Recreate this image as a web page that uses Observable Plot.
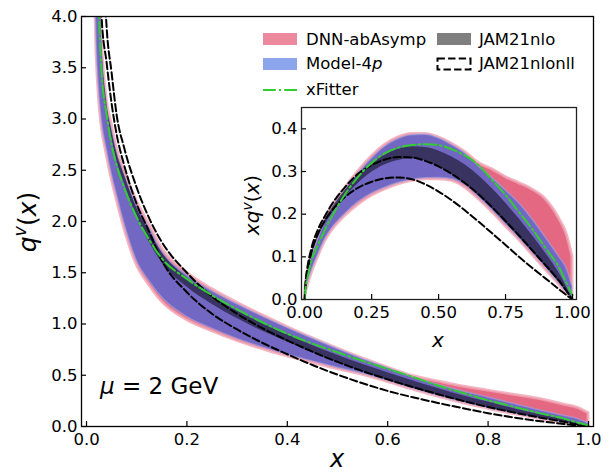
<!DOCTYPE html>
<html><head><meta charset="utf-8">
<script src="https://cdn.jsdelivr.net/npm/d3@7"></script>
<script src="https://cdn.jsdelivr.net/npm/@observablehq/plot@0.6"></script>
<style>
body{margin:0;background:#fff;}
#wrap{position:relative;width:610px;height:473px;font-family:"DejaVu Sans",sans-serif;color:#000;overflow:hidden;}
#wrap svg.plotsvg{position:absolute;overflow:visible;}
.t{position:absolute;white-space:nowrap;line-height:1;transform:translateY(-50%);}
.sw{position:absolute;}
</style></head><body><div id="wrap"></div><script>
// ---------- main panel data: q^v(x) ----------
const xMain = [0.01,0.015,0.02,0.025,0.03,0.04,0.05,0.06,0.075,0.1,0.125,0.15,0.2,0.25,0.3,0.35,0.4,0.45,0.5,0.55,0.6,0.65,0.7,0.75,0.8,0.85,0.9,0.95,0.98,1.0];
const dnnHiMain = [10,7.5,5.7,4.6,3.85,3.2,2.95,2.72,2.5,2.2,1.97,1.74,1.5,1.34,1.207,1.086,0.97,0.862,0.76,0.664,0.575,0.492,0.44,0.39,0.35,0.31,0.27,0.215,0.18,0.13];
const dnnLoMain = [6.0,4.6,3.65,3.2,2.94,2.66,2.42,2.22,1.94,1.58,1.38,1.22,1.04,0.93,0.835,0.755,0.685,0.622,0.56,0.505,0.435,0.36,0.292,0.228,0.174,0.123,0.077,0.036,0.013,0];
const m4pHiMain = [9.8,7.3,5.6,4.5,3.78,3.15,2.9,2.68,2.46,2.16,1.94,1.71,1.475,1.32,1.193,1.074,0.962,0.858,0.756,0.658,0.57,0.48,0.407,0.341,0.283,0.221,0.161,0.105,0.071,0.03];
const m4pLoMain = [6.1,4.7,3.72,3.27,3.0,2.71,2.47,2.27,1.99,1.62,1.42,1.26,1.07,0.955,0.855,0.772,0.7,0.636,0.574,0.516,0.445,0.37,0.3,0.236,0.181,0.129,0.083,0.04,0.015,0];
const jamLoMain = [9.0,6.9,5.35,4.35,3.7,3.1,2.83,2.6,2.38,2.05,1.8,1.6,1.36,1.192,1.053,0.931,0.825,0.722,0.624,0.533,0.45,0.374,0.304,0.24,0.184,0.132,0.086,0.042,0.016,0];
const jamHiMain = [9.5,7.2,5.55,4.5,3.8,3.18,2.9,2.68,2.46,2.13,1.9,1.7,1.45,1.272,1.127,1.006,0.895,0.791,0.696,0.607,0.525,0.446,0.371,0.301,0.238,0.176,0.12,0.065,0.028,0];
const nllHiMain = [14,10,7.5,6.0,5.0,3.9,3.45,3.04,2.72,2.33,2.03,1.8,1.5,1.27,1.1,0.96,0.84,0.73,0.63,0.54,0.46,0.385,0.315,0.25,0.19,0.138,0.09,0.046,0.018,0];
const nllLoMain = [11,8,6.1,4.8,4.0,3.55,3.15,2.85,2.55,2.17,1.9,1.62,1.31,1.1,0.947,0.817,0.705,0.6,0.506,0.422,0.347,0.285,0.23,0.178,0.13,0.089,0.054,0.025,0.009,0];
const xfMain = [8.5,6.2,4.8,4.0,3.45,3.05,2.75,2.55,2.33,2.04,1.82,1.64,1.44,1.28,1.143,1.017,0.905,0.809,0.724,0.64,0.562,0.483,0.4,0.327,0.256,0.194,0.133,0.079,0.036,0.01];

// ---------- inset data: x q^v(x) ----------
const xIn = [0,0.004,0.01,0.025,0.05,0.075,0.1,0.15,0.2,0.25,0.3,0.35,0.4,0.45,0.5,0.55,0.6,0.65,0.7,0.75,0.8,0.85,0.9,0.95,0.98,1.0];
const dnnHiIn = [0,0.035,0.06,0.1,0.145,0.185,0.215,0.26,0.3,0.335,0.362,0.38,0.388,0.388,0.38,0.365,0.345,0.32,0.305,0.287,0.273,0.258,0.235,0.19,0.15,0.1];
const dnnLoIn = [0,0.015,0.03,0.06,0.1,0.135,0.16,0.195,0.222,0.243,0.258,0.27,0.278,0.282,0.282,0.278,0.262,0.235,0.205,0.172,0.14,0.105,0.07,0.035,0.013,0];
const m4pHiIn = [0,0.034,0.058,0.097,0.14,0.18,0.21,0.255,0.295,0.33,0.358,0.376,0.385,0.386,0.378,0.362,0.342,0.312,0.285,0.256,0.226,0.188,0.145,0.1,0.07,0.03];
const m4pLoIn = [0,0.017,0.035,0.065,0.105,0.14,0.165,0.2,0.228,0.248,0.262,0.273,0.28,0.284,0.285,0.282,0.268,0.24,0.21,0.177,0.145,0.11,0.075,0.038,0.015,0];
const jamLoIn = [0,0.037,0.062,0.1,0.143,0.175,0.2,0.24,0.272,0.298,0.316,0.326,0.33,0.325,0.312,0.293,0.27,0.243,0.213,0.18,0.147,0.112,0.077,0.04,0.016,0];
const jamHiIn = [0,0.04,0.068,0.108,0.152,0.186,0.212,0.255,0.29,0.318,0.338,0.352,0.358,0.356,0.348,0.334,0.315,0.29,0.26,0.226,0.19,0.15,0.108,0.062,0.027,0];
const nllHiIn = [0,0.045,0.075,0.12,0.165,0.195,0.222,0.263,0.295,0.315,0.328,0.334,0.333,0.325,0.312,0.294,0.272,0.246,0.216,0.184,0.15,0.115,0.08,0.044,0.018,0];
const nllLoIn = [0,0.04,0.065,0.11,0.155,0.185,0.207,0.24,0.262,0.276,0.284,0.286,0.282,0.27,0.253,0.232,0.208,0.182,0.155,0.128,0.1,0.074,0.049,0.024,0.009,0];
const xfIn = [0,0.03,0.05,0.09,0.128,0.163,0.193,0.246,0.288,0.32,0.343,0.356,0.362,0.364,0.362,0.352,0.337,0.314,0.28,0.245,0.205,0.165,0.12,0.075,0.035,0.01];

// ---------- ticks & labels ----------
const xTicksMain = [0,0.2,0.4,0.6,0.8,1.0];
const yTicksMain = [0,0.5,1.0,1.5,2.0,2.5,3.0,3.5,4.0];
const xTicksIn = [0,0.25,0.5,0.75,1.0];
const yTicksIn = [0,0.1,0.2,0.3,0.4];
const seriesNames = ["DNN-abAsymp","Model-4p","xFitter","JAM21nlo","JAM21nlonll"];

const PINK = "rgb(228,96,124)", PINK_RIM = "rgb(240,165,180)";
const BLUE = "rgb(108,103,198)", BLUE_RIM = "rgb(165,175,235)";
const GREEN = "#32cd32";

function table(xs, s) {
  return xs.map((x,i)=>({x, dnnLo:s.dnnLo[i], dnnHi:s.dnnHi[i], m4pLo:s.m4pLo[i], m4pHi:s.m4pHi[i],
    jamLo:s.jamLo[i], jamHi:s.jamHi[i], nllLo:s.nllLo[i], nllHi:s.nllHi[i], xf:s.xf[i]}));
}
const mainRows = table(xMain,{dnnLo:dnnLoMain,dnnHi:dnnHiMain,m4pLo:m4pLoMain,m4pHi:m4pHiMain,jamLo:jamLoMain,jamHi:jamHiMain,nllLo:nllLoMain,nllHi:nllHiMain,xf:xfMain});
const inRows = table(xIn,{dnnLo:dnnLoIn,dnnHi:dnnHiIn,m4pLo:m4pLoIn,m4pHi:m4pHiIn,jamLo:jamLoIn,jamHi:jamHiIn,nllLo:nllLoIn,nllHi:nllHiIn,xf:xfIn});

function dataMarks(rows) {
  const c = "monotone-x";
  return [
    Plot.areaY(rows,{x:"x",y1:"dnnLo",y2:"dnnHi",fill:PINK,fillOpacity:0.95,stroke:PINK_RIM,strokeWidth:3,strokeOpacity:0.8,curve:c,clip:true}),
    Plot.areaY(rows,{x:"x",y1:"m4pLo",y2:"m4pHi",fill:BLUE,fillOpacity:0.95,stroke:BLUE_RIM,strokeWidth:1.5,strokeOpacity:0.5,curve:c,clip:true}),
    Plot.areaY(rows,{x:"x",y1:"jamLo",y2:"jamHi",fill:"black",fillOpacity:0.5,curve:c,clip:true}),
    Plot.line(rows,{x:"x",y:"nllHi",stroke:"black",strokeWidth:2,strokeDasharray:"7.4,3.2",curve:c,clip:true}),
    Plot.line(rows,{x:"x",y:"nllLo",stroke:"black",strokeWidth:2,strokeDasharray:"7.4,3.2",curve:c,clip:true}),
    Plot.line(rows,{x:"x",y:"xf",stroke:GREEN,strokeWidth:2,strokeDasharray:"12.8,3.2,2,3.2",curve:c,clip:true})
  ];
}

const wrap = document.getElementById("wrap");

const main = Plot.plot({
  width:610, height:473, marginLeft:81, marginRight:17, marginTop:16, marginBottom:47,
  x:{domain:[-0.01,1.01]}, y:{domain:[0,4]},
  style:{fontFamily:"DejaVu Sans", fontSize:"16.5px", color:"black", background:"transparent"},
  marks:[
    ...dataMarks(mainRows),
    Plot.axisX({ticks:xTicksMain, tickFormat:d3.format(".1f"), tickSize:-5, tickPadding:12, label:null, strokeWidth:1.2}),
    Plot.axisY({ticks:yTicksMain, tickFormat:d3.format(".1f"), tickSize:-5, tickPadding:9, label:null, strokeWidth:1.2}),
    Plot.frame({stroke:"black", strokeWidth:1.3})
  ]
});
main.classList.add("plotsvg");
main.style.left="0px"; main.style.top="0px";
wrap.appendChild(main);

const inset = Plot.plot({
  width:334, height:260, marginLeft:50, marginRight:9, marginTop:10, marginBottom:58,
  x:{domain:[-0.012,1.015]}, y:{domain:[0,0.45]},
  style:{fontFamily:"DejaVu Sans", fontSize:"16.5px", color:"black", background:"transparent"},
  marks:[
    Plot.frame({fill:"white"}),
    ...dataMarks(inRows),
    Plot.axisX({ticks:xTicksIn, tickFormat:d3.format(".2f"), tickSize:-5, tickPadding:12, label:null, strokeWidth:1.2}),
    Plot.axisY({ticks:yTicksIn, tickFormat:d3.format(".1f"), tickSize:-5, tickPadding:9, label:null, strokeWidth:1.2}),
    Plot.frame({stroke:"#222", strokeWidth:1.3})
  ]
});
inset.classList.add("plotsvg");
inset.style.left="251px"; inset.style.top="97px";
wrap.appendChild(inset);

function addText(html, left, top, size, extra) {
  const d = document.createElement("div");
  d.className = "t"; d.innerHTML = html;
  d.style.left = left+"px"; d.style.top = top+"px"; d.style.fontSize = size+"px";
  if (extra) Object.assign(d.style, extra);
  wrap.appendChild(d); return d;
}
// axis labels
addText("<i>x</i>", 337, 459, 24, {transform:"translate(-50%,-50%)"});
addText("<i>q</i><sup style='font-size:70%;vertical-align:0.55em'><i>v</i></sup>(<i>x</i>)", 26, 222, 25, {transform:"translate(-50%,-50%) rotate(-90deg)"});
addText("<i>x</i>", 438, 340, 20, {transform:"translate(-50%,-50%)"});
addText("<i>xq</i><sup style='font-size:70%;vertical-align:0.55em'><i>v</i></sup>(<i>x</i>)", 251, 205, 20, {transform:"translate(-50%,-50%) rotate(-90deg)"});
// annotation
addText("<i>μ</i> = 2 GeV", 100, 386, 23);

// legend
function swatch(left, top, svg) {
  const d = document.createElement("div");
  d.className = "sw"; d.style.left = left+"px"; d.style.top = top+"px";
  d.innerHTML = `<svg width="36" height="14" style="display:block">${svg}</svg>`;
  wrap.appendChild(d);
}
swatch(262, 32, `<rect x="1" y="1" width="34" height="12" fill="crimson" fill-opacity="0.5"/>`);
swatch(262, 56.5, `<rect x="1" y="1" width="34" height="12" fill="royalblue" fill-opacity="0.6"/>`);
swatch(262, 83, `<line x1="1" y1="7" x2="35" y2="7" stroke="${GREEN}" stroke-width="2" stroke-dasharray="12.8,3.2,2,3.2"/>`);
swatch(436, 32, `<rect x="1" y="1" width="34" height="12" fill="black" fill-opacity="0.5"/>`);
swatch(436, 56.5, `<rect x="1.5" y="1.5" width="33" height="11" fill="none" stroke="black" stroke-width="2" stroke-dasharray="7.4,3.2"/>`);
addText(seriesNames[0], 306, 39.5, 16.5);
addText("Model-4<i>p</i>", 306, 64, 16.5);
addText(seriesNames[2], 306, 90, 16.5);
addText(seriesNames[3], 479, 39.5, 16.5);
addText(seriesNames[4], 479, 64, 16.5);
</script></body></html>
